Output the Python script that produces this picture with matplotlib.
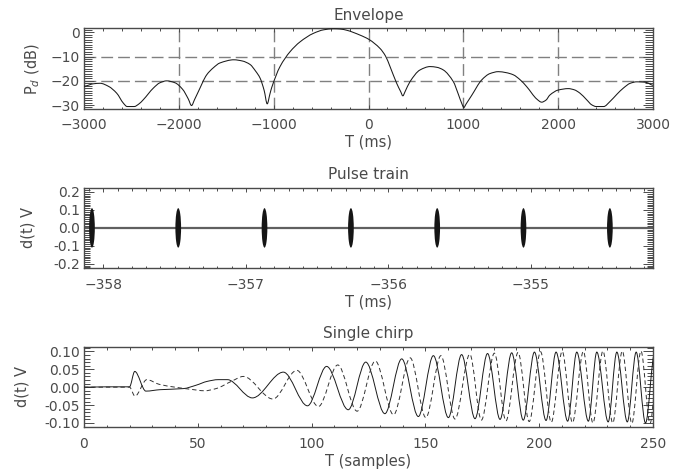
import numpy as np
import matplotlib
matplotlib.use("Agg")
import matplotlib.pyplot as plt
from matplotlib.path import Path
from matplotlib.patches import PathPatch, Ellipse
from matplotlib.ticker import MultipleLocator, FormatStrFormatter

# ---- Envelope (dB vs ms)
env_t = [-3000, -2900, -2830, -2740, -2655, -2585, -2545, -2470, -2420, -2375,
         -2269, -2200, -2128, -2040, -1960, -1900, -1866, -1835, -1795, -1706,
         -1636, -1566, -1420, -1330, -1250, -1190, -1144, -1100, -1068, -1040,
         -1021, -933, -828, -722, -582, -470, -371, -300, -230, -90,
         5, 121, 180, 227, 297, 340, 362, 385, 438, 543,
         649, 720, 789, 894, 947, 985, 1005, 1030, 1088, 1194,
         1280, 1369, 1450, 1527, 1600, 1668, 1774, 1826, 1870, 1914,
         2000, 2107, 2170, 2230, 2300, 2354, 2400, 2480, 2547, 2620,
         2687, 2760, 2828, 2900, 2934, 3000]
env_db = [-22.2, -21.2, -21.0, -22.3, -25.1, -29.2, -30.6, -30.6, -29.5, -27.8,
          -23.0, -20.8, -20.0, -20.8, -23.5, -27.5, -30.2, -27.8, -24.5, -17.5,
          -14.6, -12.6, -11.3, -11.8, -13.2, -16.0, -18.8, -24.0, -29.5, -25.5,
          -22.8, -14.1, -8.0, -3.9, -0.4, 1.1, 1.5, 1.4, 0.9, -1.1,
          -2.9, -6.6, -9.8, -14.1, -21.0, -24.5, -26.2, -24.5, -20.3, -15.5,
          -14.1, -14.4, -15.5, -20.3, -25.5, -29.5, -31.0, -29.5, -26.0, -19.6,
          -17.0, -16.2, -16.6, -17.5, -19.6, -22.4, -27.5, -28.8, -28.0, -25.8,
          -23.8, -23.2, -23.7, -25.1, -27.8, -29.9, -30.6, -30.6, -28.5, -25.5,
          -23.0, -21.0, -20.4, -20.5, -20.7, -21.8]
env_grid_t = [-2000, -1000, 0, 1000, 2000]
env_grid_db = [-10, -20]

# ---- Pulse train
pulse_t = [-358.081, -357.475, -356.869, -356.262, -355.656, -355.050, -354.443]
pulse_amp = 0.11
pulse_width = 0.04
baseline_level = 0.0

# ---- Single chirp: knots (sample, volts) for real (solid) and quadrature (dashed)
chirp_re_t = [0, 10, 20, 22.3, 27.2, 33.4, 43.6, 49.5, 54, 59, 63,
              74, 87.6, 98.2, 106.6, 116.1, 123.8, 132.2, 139.6, 146.9, 153.5,
              160.1, 165.9, 171.8, 177.3, 182.8, 187.9, 193.0, 197.9, 203.0, 207.4,
              212.5, 216.5, 221.6, 225.3, 230.3, 234.1, 238.7, 242.6, 246.7, 250.8]
chirp_re_v = [0.0, 0.001, 0.001, 0.044, -0.011, -0.007, -0.004, 0.006, 0.016, 0.021, 0.021,
              -0.030, 0.042, -0.052, 0.058, -0.063, 0.070, -0.074, 0.079, -0.082, 0.088,
              -0.085, 0.091, -0.088, 0.094, -0.090, 0.096, -0.092, 0.098, -0.093, 0.098,
              -0.095, 0.098, -0.095, 0.098, -0.097, 0.098, -0.097, 0.098, -0.100, 0.098]
chirp_im_t = [0, 10, 20, 22.4, 27.6, 33, 40, 47, 53, 58, 65, 70,
              83, 93.5, 103, 111.5, 120, 128, 136, 143.3, 150.2, 156.8,
              163, 169.5, 174.6, 180.3, 185.4, 190.7, 195.6, 200.6, 205.3, 210.1,
              214.6, 219.4, 223.6, 228, 232.3, 236.5, 240.7, 244.7, 248.7, 252.5]
chirp_im_v = [0.0, 0.0, 0.0, -0.025, 0.021, 0.008, 0.0, -0.006, -0.010, -0.004, 0.017, 0.030,
              -0.033, 0.047, -0.054, 0.062, -0.067, 0.073, -0.077, 0.082, -0.085, 0.088,
              -0.089, 0.092, -0.092, 0.095, -0.094, 0.097, -0.096, 0.099, -0.098, 0.100,
              -0.099, 0.100, -0.100, 0.101, -0.100, 0.101, -0.101, 0.101, -0.101, 0.100]

TXT = "#4a4a4a"
plt.rcParams.update({
    "font.family": "DejaVu Sans",
    "text.color": TXT, "axes.labelcolor": TXT,
    "xtick.color": "#4a4a4a", "ytick.color": "#4a4a4a",
    "xtick.labelcolor": TXT, "ytick.labelcolor": TXT,
    "axes.edgecolor": "#4a4a4a", "axes.linewidth": 1.0,
})


def smooth_path(t, v):
    """Path through the knots (monotone cubic Hermite drawn as Bezier segments)."""
    t = np.asarray(t, float)
    v = np.asarray(v, float)
    d = np.diff(v) / np.diff(t)
    m = np.zeros_like(v)
    for i in range(1, len(v) - 1):
        if d[i - 1] * d[i] > 0:
            m[i] = 2.0 / (1.0 / d[i - 1] + 1.0 / d[i])
    verts = [(t[0], v[0])]
    codes = [Path.MOVETO]
    for i in range(len(t) - 1):
        h = (t[i + 1] - t[i]) / 3.0
        verts += [(t[i] + h, v[i] + m[i] * h),
                  (t[i + 1] - h, v[i + 1] - m[i + 1] * h),
                  (t[i + 1], v[i + 1])]
        codes += [Path.CURVE4] * 3
    return Path(verts, codes)


def style_axes(ax, xmaj, xmin, ymaj, ymin, ymin_len=4.5):
    ax.xaxis.set_major_locator(MultipleLocator(xmaj))
    ax.xaxis.set_minor_locator(MultipleLocator(xmin))
    ax.yaxis.set_major_locator(MultipleLocator(ymaj))
    ax.yaxis.set_minor_locator(MultipleLocator(ymin))
    ax.tick_params(axis="both", which="both", direction="in", top=True, right=True,
                   width=0.7, labelsize=10)
    ax.tick_params(axis="x", which="major", length=3.2, pad=7)
    ax.tick_params(axis="x", which="minor", length=1.8)
    ax.tick_params(axis="y", which="major", length=7.5, pad=3)
    ax.tick_params(axis="y", which="minor", length=ymin_len)


fig = plt.figure(figsize=(6.84, 4.71), dpi=100)

# ---- Envelope
ax1 = fig.add_axes([0.1228, 0.7692, 0.8319, 0.1707])
for g in env_grid_t:
    ax1.axvline(g, color="#808080", lw=1.0, dashes=(8.5, 3.6), zorder=1)
for g in env_grid_db:
    ax1.axhline(g, color="#808080", lw=1.0, dashes=(8.5, 3.6), zorder=1)
ax1.add_patch(PathPatch(smooth_path(env_t, env_db), fill=False, ec="#1a1a1a", lw=0.75, zorder=3))
ax1.set_xlim(-3000, 3000)
ax1.set_ylim(-31.5, 1.7)
style_axes(ax1, 1000, 200, 10, 1, ymin_len=6)
ax1.set_title("Envelope", fontsize=11, pad=6)
ax1.set_xlabel("T (ms)", fontsize=10.5)
ax1.set_ylabel("P$_d$ (dB)", fontsize=10.5)

# ---- Pulse train
ax2 = fig.add_axes([0.1228, 0.4304, 0.8319, 0.1715])
ax2.axhline(baseline_level, color="#606060", lw=1.6, zorder=2)
for t in pulse_t:
    ax2.add_patch(Ellipse((t, baseline_level), width=pulse_width, height=2 * pulse_amp,
                          fc="#151515", ec="none", zorder=3))
ax2.set_xlim(-358.137, -354.14)
ax2.set_ylim(-0.225, 0.225)
style_axes(ax2, 1, 0.1, 0.1, 0.01, ymin_len=4)
ax2.yaxis.set_major_formatter(FormatStrFormatter("%.1f"))
ax2.set_title("Pulse train", fontsize=11, pad=6)
ax2.set_xlabel("T (ms)", fontsize=10.5)
ax2.set_ylabel("d(t) V", fontsize=10.5)

# ---- Single chirp
ax3 = fig.add_axes([0.1228, 0.0928, 0.8319, 0.1711])
ax3.add_patch(PathPatch(smooth_path(chirp_re_t, chirp_re_v), fill=False, ec="#1a1a1a",
                        lw=0.7, zorder=3))
ax3.add_patch(PathPatch(smooth_path(chirp_im_t, chirp_im_v), fill=False, ec="#333333",
                        lw=0.7, ls=(0, (4.5, 3)), zorder=3))
ax3.set_xlim(0, 250)
ax3.set_ylim(-0.112, 0.113)
style_axes(ax3, 50, 10, 0.05, 0.01, ymin_len=4)
ax3.yaxis.set_major_formatter(FormatStrFormatter("%.2f"))
ax3.set_title("Single chirp", fontsize=11, pad=6)
ax3.set_xlabel("T (samples)", fontsize=10.5)
ax3.set_ylabel("d(t) V", fontsize=10.5)

for ax, lx in ((ax1, -0.0896), (ax2, -0.0984), (ax3, -0.109)):
    ax.yaxis.set_label_coords(lx, 0.5)
    ax.yaxis.label.set_va("center")
    ax.xaxis.set_label_coords(0.5, -0.42)
    ax.xaxis.label.set_va("center")

fig.savefig("out.png", dpi=100)
